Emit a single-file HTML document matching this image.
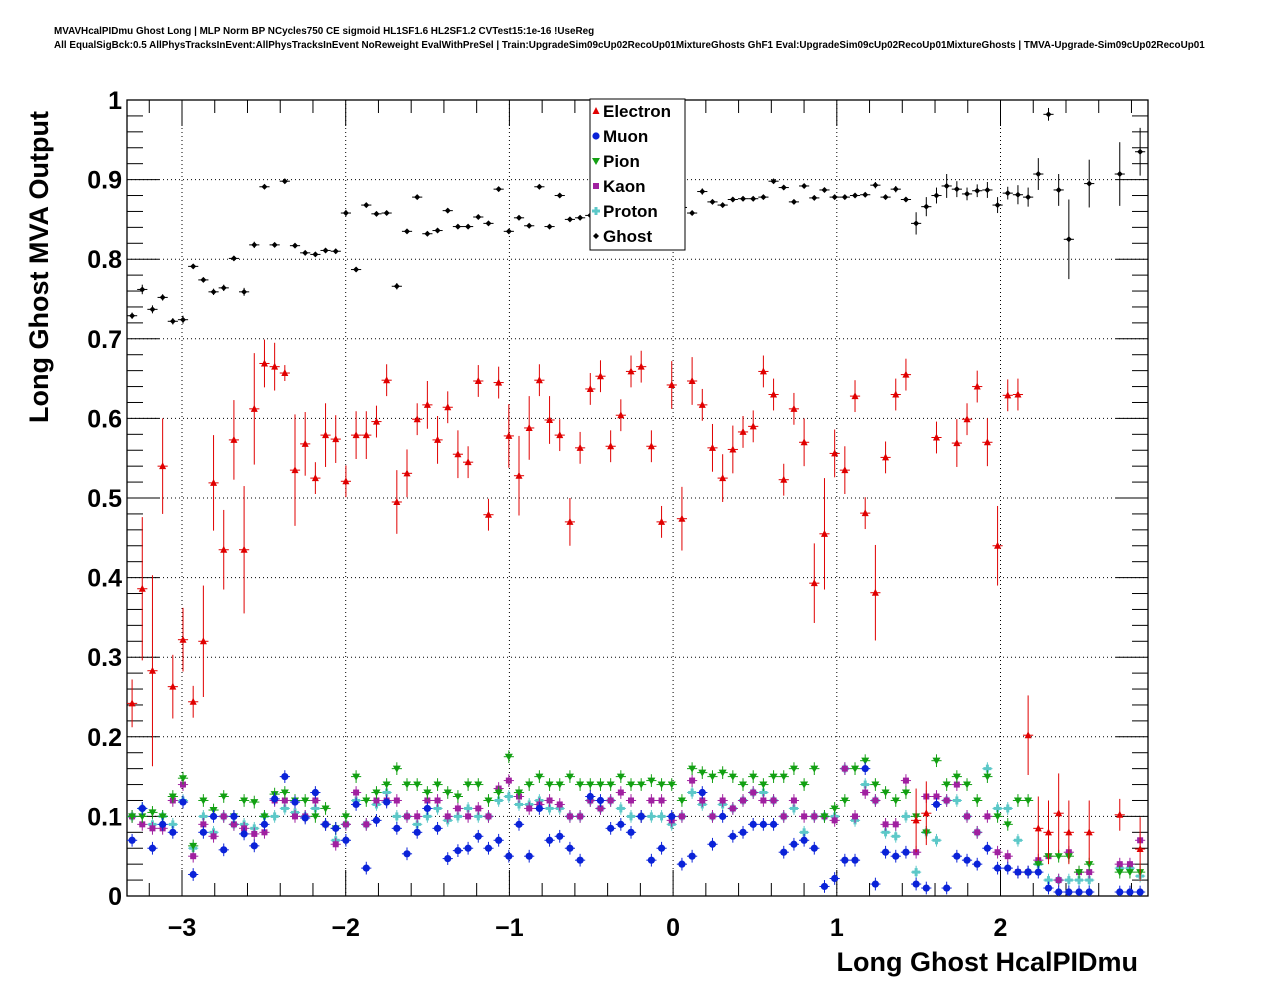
<!DOCTYPE html>
<html><head><meta charset="utf-8"><style>
body{margin:0;background:#fff;}
svg{display:block;font-family:"Liberation Sans",Arial,sans-serif;}
</style></head><body>
<svg id="chart" width="1276" height="996">
<text x="54" y="34" font-size="9.9" font-weight="bold">MVAVHcalPIDmu Ghost Long | MLP Norm BP NCycles750 CE sigmoid HL1SF1.6 HL2SF1.2 CVTest15:1e-16 !UseReg</text>
<text x="54" y="48" font-size="9.9" font-weight="bold">All EqualSigBck:0.5 AllPhysTracksInEvent:AllPhysTracksInEvent NoReweight EvalWithPreSel | Train:UpgradeSim09cUp02RecoUp01MixtureGhosts GhF1 Eval:UpgradeSim09cUp02RecoUp01MixtureGhosts | TMVA-Upgrade-Sim09cUp02RecoUp01</text>
<g id="grid"></g>
<g id="axes"></g>
<g id="marks"></g>
<text transform="translate(48,267) rotate(-90)" text-anchor="middle" font-size="27" font-weight="bold">Long Ghost MVA Output</text>
<text x="1138" y="971" text-anchor="end" font-size="27" font-weight="bold">Long Ghost HcalPIDmu</text>
<g id="legend"></g>
</svg>
<script>
const xTicks=[-3,-2,-1,0,1,2];
const yTicks=[0,0.1,0.2,0.3,0.4,0.5,0.6,0.7,0.8,0.9,1];
const yTickLabels=["0","0.1","0.2","0.3","0.4","0.5","0.6","0.7","0.8","0.9","1"];
const binLow=-3.336, binWidth=0.0622;
const ghost=[.729,.762,.737,.752,.722,.724,.791,.774,.759,.764,.801,.759,.818,.891,.818,.898,.817,.808,.806,.811,.810,.858,.787,.868,.857,.858,.766,.835,.878,.832,.836,.861,.841,.841,.853,.845,.888,.835,.852,.842,.891,.841,.880,.850,.852,.855,.86,.85,.87,.86,.865,.87,.86,.87,.865,.858,.885,.872,.868,.875,.876,.876,.878,.898,.890,.872,.892,.877,.887,.878,.878,.880,.881,.893,.878,.888,.875,.845,.866,.880,.892,.888,.882,.886,.887,.868,.883,.881,.878,.907,.982,.887,.825,null,.895,null,null,.907,null,.935];
const ghostErr=[.004,.006,.005,.004,.004,.005,.003,.003,.004,.004,.003,.005,.004,.003,.003,.003,.003,.003,.003,.003,.003,.004,.003,.003,.003,.003,.004,.003,.003,.003,.003,.003,.003,.003,.003,.003,.003,.003,.003,.003,.003,.003,.003,.003,.003,.003,.003,.003,.003,.003,.003,.003,.003,.003,.003,.003,.004,.003,.003,.003,.003,.003,.003,.003,.003,.003,.003,.003,.003,.003,.003,.003,.003,.004,.003,.004,.003,.014,.012,.01,.015,.01,.008,.008,.01,.01,.008,.012,.012,.02,.008,.02,.05,null,.03,null,null,.04,null,.03];
const electron=[.242,.386,.283,.540,.263,.322,.244,.320,.519,.435,.573,.435,.612,.669,.665,.657,.535,.568,.525,.579,.574,.521,.579,.579,.596,.648,.495,.531,.599,.617,.573,.614,.555,.545,.647,.479,.645,.578,.528,.588,.648,.598,.579,.470,.563,.637,.653,.565,.604,.659,.665,.565,.470,.642,.474,.647,.617,.563,.525,.561,.583,.590,.659,.630,.523,.612,.570,.393,.455,.556,.535,.628,.481,.381,.551,.630,.655,.095,.104,.576,null,.569,.599,.640,.570,.440,.629,.630,.202,.085,.080,.104,.080,null,.080,null,null,.102,null,.059];
const electronErr=[.03,.09,.12,.06,.04,.04,.02,.07,.06,.05,.05,.08,.07,.03,.03,.01,.07,.04,.02,.04,.03,.02,.03,.03,.02,.02,.04,.03,.02,.03,.03,.02,.03,.02,.02,.02,.02,.04,.05,.04,.02,.03,.02,.03,.02,.02,.02,.02,.02,.02,.02,.02,.02,.03,.04,.03,.02,.03,.03,.03,.02,.02,.02,.02,.02,.02,.03,.05,.07,.03,.03,.02,.02,.06,.02,.02,.02,.04,.04,.02,null,.03,.02,.02,.03,.05,.02,.02,.05,.04,.04,.05,.04,null,.04,null,null,.02,null,.04];
const muon=[.07,.11,.06,.09,.08,.118,.027,.08,.10,.058,.10,.078,.063,.09,.122,.15,.118,.098,.13,.09,.085,.07,.115,.035,.095,.118,.085,.053,.08,.11,.085,.047,.057,.06,.075,.06,.07,.05,.09,.05,.11,.07,.075,.06,.045,.125,.12,.085,.09,.08,.1,.045,.06,.1,.04,.05,.13,.065,.1,.075,.08,.09,.09,.09,.055,.065,.07,.06,.012,.022,.045,.045,.16,.015,.055,.05,.055,.015,.01,.115,.01,.05,.045,.04,.06,.035,.035,.03,.03,.03,.01,.005,.005,.005,.005,null,null,.005,.005,.005];
const pion=[.1,.1,.105,.1,.125,.148,.063,.12,.108,.125,.1,.12,.118,.1,.128,.13,.12,.12,.1,.11,.085,.1,.15,.12,.13,.14,.16,.14,.14,.13,.14,.13,.125,.14,.14,.12,.13,.175,.13,.14,.15,.14,.14,.15,.14,.14,.14,.14,.15,.14,.14,.145,.14,.14,.12,.16,.155,.15,.155,.15,.14,.15,.14,.15,.15,.16,.14,.16,.1,.11,.12,.16,.17,.14,.13,.12,.13,.1,.08,.17,.14,.15,.14,.12,.15,.1,.09,.12,.12,.04,.05,.05,.05,.03,.04,null,null,.03,.03,.03];
const kaon=[.1,.09,.085,.085,.12,.14,.05,.09,.075,.1,.09,.085,.078,.08,.12,.12,.1,.1,.12,.09,.065,.09,.13,.09,.12,.12,.12,.1,.1,.12,.12,.1,.11,.1,.11,.1,.135,.145,.125,.11,.115,.12,.115,.1,.1,.12,.11,.12,.13,.12,.1,.12,.12,.095,.1,.145,.12,.1,.12,.11,.12,.13,.12,.12,.1,.12,.1,.1,.1,.095,.16,.1,.13,.12,.09,.09,.145,.055,.125,.125,.12,.14,.1,.08,.1,.055,.05,.03,.03,.045,.05,.02,.055,.03,.03,null,null,.04,.04,.07];
const proton=[.1,.11,.09,.1,.09,.12,.06,.1,.08,.1,.09,.09,.085,.1,.1,.11,.105,.1,.11,.09,.07,.09,.12,.09,.115,.13,.1,.1,.09,.1,.11,.095,.1,.11,.1,.1,.12,.125,.115,.115,.12,.11,.11,.1,.1,.12,.11,.12,.11,.1,.1,.1,.1,.09,.1,.13,.115,.1,.115,.11,.12,.13,.13,.12,.1,.11,.08,.1,.1,.1,.16,.095,.14,.12,.08,.075,.1,.03,.08,.07,.12,.12,.1,.08,.16,.11,.11,.07,.03,.04,.02,.02,.02,.02,.02,null,null,.035,.035,.025];
const legendLabels=["Electron","Muon","Pion","Kaon","Proton","Ghost"];

const NS="http://www.w3.org/2000/svg";
const L=127,R=1148,T=100,B=896;
const xMin=-3.336,xMax=2.901;
const X=v=>L+(v-xMin)/(xMax-xMin)*(R-L);
const Y=v=>B-v*(B-T);
function mk(p,tag,a){const e=document.createElementNS(NS,tag);for(const k in a)e.setAttribute(k,a[k]);p.appendChild(e);return e;}
const grid=document.getElementById('grid'),axes=document.getElementById('axes'),marks=document.getElementById('marks'),leg=document.getElementById('legend');
xTicks.forEach(t=>{const g=mk(grid,'line',{x1:X(t),x2:X(t),y1:T,y2:B,stroke:'#000','stroke-width':1,'stroke-dasharray':'1,3'});

});
yTicks.slice(1,-1).forEach(t=>{const g=mk(grid,'line',{x1:L,x2:R,y1:Y(t),y2:Y(t),stroke:'#000','stroke-width':1,'stroke-dasharray':'1,3'});

});
mk(axes,'rect',{x:L,y:T,width:R-L,height:B-T,fill:'none',stroke:'#000','stroke-width':1.3});
for(let v=-3.2;v<=2.9;v+=0.2){const r=Math.round(v*10)/10;const major=Math.abs(r-Math.round(r))<1e-6;const len=major?26:13;
mk(axes,'line',{x1:X(r),x2:X(r),y1:B,y2:B-len,stroke:'#000'});mk(axes,'line',{x1:X(r),x2:X(r),y1:T,y2:T+len,stroke:'#000'});}
for(let i=0;i<=50;i++){const v=i*0.02;const major=i%5==0;const len=major?32:16;
mk(axes,'line',{x1:L,x2:L+len,y1:Y(v),y2:Y(v),stroke:'#000'});mk(axes,'line',{x1:R,x2:R-len,y1:Y(v),y2:Y(v),stroke:'#000'});}
xTicks.forEach(t=>{const e=mk(axes,'text',{x:X(t),y:936,'text-anchor':'middle','font-size':25,'font-weight':'bold'});e.textContent=(t<0?'\u2212':'')+Math.abs(t);

});
yTicks.forEach((t,i)=>{const e=mk(axes,'text',{x:122,y:Y(t)+9,'text-anchor':'end','font-size':25,'font-weight':'bold'});e.textContent=yTickLabels[i];

});
function marker(p,type,cx,cy,col){
 if(type=='tri')return mk(p,'polygon',{points:`${cx},${cy-4} ${cx-3.5},${cy+3} ${cx+3.5},${cy+3}`,fill:col});
 if(type=='circ')return mk(p,'circle',{cx:cx,cy:cy,r:3.6,fill:col});
 if(type=='tdown')return mk(p,'polygon',{points:`${cx-4},${cy-3} ${cx+4},${cy-3} ${cx},${cy+4}`,fill:col});
 if(type=='sq')return mk(p,'rect',{x:cx-3,y:cy-3,width:6,height:6,fill:col});
 if(type=='plus'){const g=mk(p,'g',{});mk(g,'rect',{x:cx-4,y:cy-1.5,width:8,height:3,fill:col});mk(g,'rect',{x:cx-1.5,y:cy-4,width:3,height:8,fill:col});return g;}
 return mk(p,'polygon',{points:`${cx},${cy-3} ${cx+3},${cy} ${cx},${cy+3} ${cx-3},${cy}`,fill:col});
}
const series=[
 {name:'proton',vals:proton,err:null,type:'plus',col:'#5cc8c8'},
 {name:'kaon',vals:kaon,err:null,type:'sq',col:'#a020a0'},
 {name:'pion',vals:pion,err:null,type:'tdown',col:'#12a012'},
 {name:'muon',vals:muon,err:null,type:'circ',col:'#0a22d8'},
 {name:'electron',vals:electron,err:electronErr,type:'tri',col:'#e00000'},
 {name:'ghost',vals:ghost,err:ghostErr,type:'dia',col:'#000'}];
series.forEach(s=>{const g=mk(marks,'g',{});


 s.vals.forEach((v,i)=>{if(v==null)return;const xc=binLow+(i+0.5)*binWidth;const cx=X(xc),cy=Y(v);
  const e=s.err?(s.err[i]||0.005):0.008;
  mk(g,'line',{x1:X(xc-binWidth/2),x2:X(xc+binWidth/2),y1:cy,y2:cy,stroke:s.col,'stroke-width':1});
  mk(g,'line',{x1:cx,x2:cx,y1:Y(Math.min(1,v+e)),y2:Y(Math.max(0,v-e)),stroke:s.col,'stroke-width':1});
  const m=marker(g,s.type,cx,cy,s.col);
  
  
 });});
mk(leg,'rect',{x:590,y:99,width:95,height:151,fill:'#fff',stroke:'#000','stroke-width':1});
const legTypes=['tri','circ','tdown','sq','plus','dia'],legCols=['#e00000','#0a22d8','#12a012','#a020a0','#5cc8c8','#000'];
legendLabels.forEach((lab,i)=>{const cy=111+i*25;marker(leg,legTypes[i],596,cy,legCols[i]);
 const t=mk(leg,'text',{x:603,y:cy+6,'font-size':17,'font-weight':'bold'});t.textContent=lab;
 
 });
</script>
</body></html>
